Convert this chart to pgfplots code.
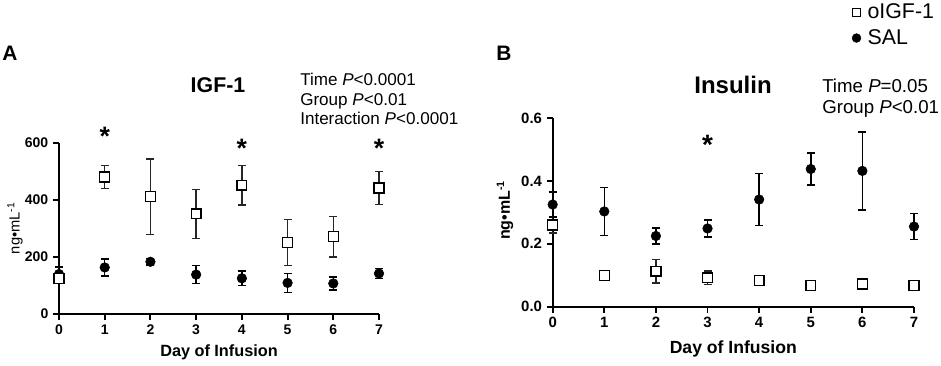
\documentclass[border=0pt]{standalone}
\usepackage{fontspec}
\setmainfont{Liberation Sans}
\usepackage{pgfplots}
\pgfplotsset{compat=1.18}
\begin{document}
\begin{tikzpicture}
\path[use as bounding box] (0pt,0pt) rectangle (705.75pt,273.75pt);
\pgfplotsset{
  prism/.style={
    scale only axis,
    axis lines=left,
    axis line style={-, line width=1.6pt},
    tick align=outside,
    major tick length=4.5pt,
    tick style={line width=1.4pt, black},
    xmin=0, xmax=7,
    xtick={0,1,...,7},
    /pgf/number format/assume math mode=true,
    clip=false,
    error bars/y dir=both,
    error bars/y explicit,
  },
  oigf/.style={only marks, mark=square*, mark size=3.7pt, mark options={fill=white, draw=black, line width=1pt},
    error bars/error bar style={line width=1pt, black!85},
    error bars/error mark options={rotate=90, mark size=3pt, line width=1pt, black!85}},
  sal/.style={only marks, mark=*, mark size=3.6pt, mark options={fill=black, draw=black},
    error bars/error bar style={line width=1.1pt, black},
    error bars/error mark options={rotate=90, mark size=3pt, line width=1.1pt, black}},
}
% ---------------- Panel A ----------------
\begin{axis}[prism,
  at={(44.25pt,38.25pt)}, anchor=south west,
  width=240pt, height=128.5pt,
  ymin=0, ymax=600, ytick={0,200,400,600},
  ticklabel style={font=\bfseries\fontsize{10.5}{12}\selectfont},
  xlabel={Day of Infusion},
  xlabel style={font=\bfseries\fontsize{12.2}{14}\selectfont, at={(axis description cs:0.5,0)}, anchor=center, yshift=-29pt},
  ylabel={ng\textbullet mL\textsuperscript{-1}},
  ylabel style={font=\fontsize{11}{13}\selectfont, at={(axis description cs:-0.1375,0.5)}, anchor=center},
]
\addplot+[sal] table[x=x, y=y, y error=e] {
x y e
0 140 25
1 163 30
2 183 12
3 138 32
4 125 25
5 109 33
6 107 23
7 142 18
};
\addplot+[oigf] table[x=x, y=y, y error=e] {
x y e
0 125 15
1 480 41
2 411 132
3 351 86
4 451 69
5 250 81
6 271 71
7 441 58
};
\node[anchor=north, inner sep=0pt, font=\bfseries\fontsize{20}{20}\selectfont] at (axis cs:1,656) {*};
\node[anchor=north, inner sep=0pt, font=\bfseries\fontsize{20}{20}\selectfont] at (axis cs:4,615) {*};
\node[anchor=north, inner sep=0pt, font=\bfseries\fontsize{20}{20}\selectfont] at (axis cs:7,615) {*};
\end{axis}
% ---------------- Panel B ----------------
\begin{axis}[prism,
  at={(414.5pt,43.7pt)}, anchor=south west,
  width=271pt, height=141.5pt,
  ymin=0, ymax=0.6, ytick={0,0.2,0.4,0.6},
  yticklabel style={/pgf/number format/.cd, fixed, fixed zerofill, precision=1},
  ticklabel style={font=\bfseries\fontsize{11.2}{13}\selectfont},
  xlabel={Day of Infusion},
  xlabel style={font=\bfseries\fontsize{13.2}{15}\selectfont, at={(axis description cs:0.5,0)}, anchor=center, yshift=-32pt},
  ylabel={ng\textbullet mL\textsuperscript{-1}},
  ylabel style={font=\bfseries\fontsize{12}{14}\selectfont, at={(axis description cs:-0.132,0.512)}, anchor=center},
  legend style={at={(axis description cs:0.828,1.62)}, anchor=north west, draw=none, fill=none, inner sep=0pt,
    font=\fontsize{16}{19}\selectfont, row sep=2.5pt,
    /tikz/every odd column/.append style={column sep=3pt}},
  legend cell align=left,
  legend image code/.code={\draw[mark repeat=2,mark phase=2] plot coordinates {(0cm,0cm)(0.15cm,0cm)(0.3cm,0cm)};},
]
\addplot+[oigf, forget plot] table[x=x, y=y, y error=e] {
x y e
0 0.260 0.025
1 0.099 0.008
2 0.113 0.038
3 0.092 0.022
4 0.083 0.008
5 0.067 0.004
6 0.072 0.005
7 0.067 0.004
};
\addplot+[sal, forget plot] table[x=x, y=y, y error=e] {
x y e
0 0.325 0.040
1 0.303 0.077
2 0.225 0.026
3 0.249 0.027
4 0.341 0.083
5 0.438 0.051
6 0.432 0.124
7 0.255 0.041
};
\addlegendimage{only marks, mark=square*, mark size=3pt, mark options={fill=white, draw=black, line width=0.9pt}}
\addlegendentry{oIGF-1}
\addlegendimage{only marks, mark=*, mark size=3.3pt, mark options={fill=black, draw=black}}
\addlegendentry{SAL}
\node[anchor=north, inner sep=0pt, font=\bfseries\fontsize{21}{21}\selectfont] at (axis cs:3,0.546) {*};
\end{axis}
% ---------------- texts ----------------
\node[anchor=base west, inner sep=0pt, font=\bfseries\fontsize{15.7}{18}\selectfont] at (1.5pt,228.75pt) {A};
\node[anchor=base west, inner sep=0pt, font=\bfseries\fontsize{15.7}{18}\selectfont] at (372pt,228.75pt) {B};
\node[anchor=center, inner sep=0pt, font=\bfseries\fontsize{16}{18}\selectfont] at (163.5pt,210pt) {IGF-1};
\node[anchor=center, inner sep=0pt, font=\bfseries\fontsize{18}{20}\selectfont] at (549.75pt,210pt) {Insulin};
\node[anchor=base west, inner sep=0pt, font=\fontsize{12.8}{15}\selectfont] at (225pt,210pt) {Time \textit{P}<0.0001};
\node[anchor=base west, inner sep=0pt, font=\fontsize{12.8}{15}\selectfont] at (225pt,195pt) {Group \textit{P}<0.01};
\node[anchor=base west, inner sep=0pt, font=\fontsize{12.8}{15}\selectfont] at (225pt,180.75pt) {Interaction \textit{P}<0.0001};
\node[anchor=base west, inner sep=0pt, font=\fontsize{14}{16}\selectfont] at (616.5pt,204.75pt) {Time \textit{P}=0.05};
\node[anchor=base west, inner sep=0pt, font=\fontsize{14}{16}\selectfont] at (616.5pt,189pt) {Group \textit{P}<0.01};
\end{tikzpicture}
\end{document}
